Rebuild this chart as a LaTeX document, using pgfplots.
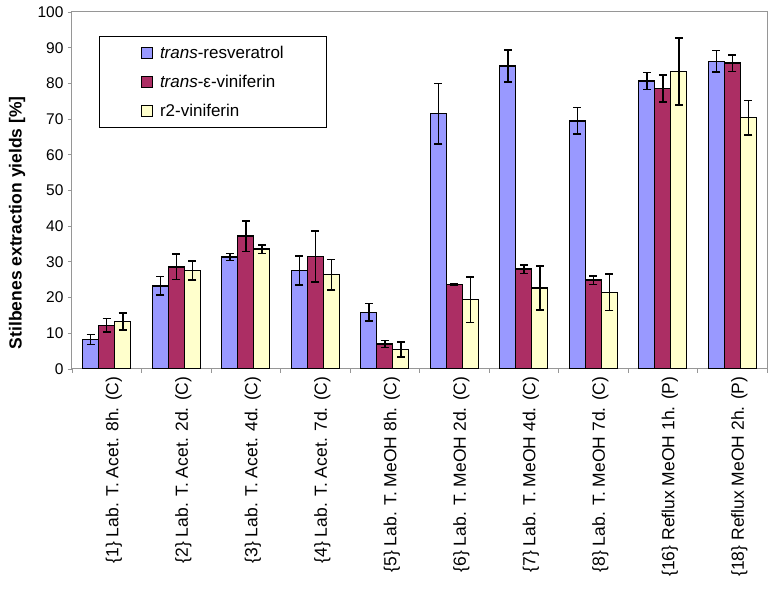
\documentclass[border=0pt]{standalone}
\usepackage{pgfplots}
\pgfplotsset{compat=1.18}
\usepackage{pgfplotstable}
\usepackage{fontspec}
\setmainfont{Liberation Sans}
\definecolor{cblue}{HTML}{9999FF}
\definecolor{cred}{RGB}{172,46,100}
\definecolor{cyel}{HTML}{FFFFCC}
\definecolor{axgray}{RGB}{150,150,150}

\pgfplotstableread{
x  res  reserr  eps  epserr  r2  r2err
0  8.2  1.4   12.2  1.9   13.3  2.4
1  23.3 2.6   28.6  3.6   27.6  2.7
2  31.4 1.0   37.2  4.3   33.6  1.2
3  27.6 4.1   31.5  7.1   26.4  4.3
4  15.9 2.4   7.0   1.0   5.5   2.1
5  71.5 8.5   23.7  0.2   19.4  6.4
6  84.9 4.5   28.0  1.2   22.7  6.2
7  69.5 3.7   24.9  1.2   21.5  5.1
8  80.7 2.4   78.6  3.8   83.3  9.4
9  86.2 3.0   85.7  2.3   70.4  4.8
}\datatable

\begin{document}
\begin{tikzpicture}
\begin{axis}[
  at={(0,0)}, anchor=south west,
  scale only axis,
  width=695pt, height=357pt,
  ybar=0pt, bar width=16pt,
  xmin=-0.5, xmax=9.5,
  ymin=0, ymax=100,
  ytick={0,10,...,100},
  xtick={0,...,9},
  xticklabels={{\{1\} Lab. T. Acet. 8h. (C)},{\{2\} Lab. T. Acet. 2d. (C)},{\{3\} Lab. T. Acet. 4d. (C)},{\{4\} Lab. T. Acet. 7d. (C)},{\{5\} Lab. T. MeOH 8h. (C)},{\{6\} Lab. T. MeOH 2d. (C)},{\{7\} Lab. T. MeOH 4d. (C)},{\{8\} Lab. T. MeOH 7d. (C)},{\{16\} Reflux MeOH 1h. (P)},{\{18\} Reflux MeOH 2h. (P)}},
  minor xtick={-0.5,0.5,...,9.5},
  x tick style={draw=none},
  minor x tick style={draw=axgray, line width=0.8pt},
  minor tick length=4pt,
  y tick style={draw=axgray, line width=0.8pt},
  major tick length=4pt,
  tick align=outside,
  xtick pos=bottom, ytick pos=left,
  axis line style={axgray, line width=1pt},
  /pgf/number format/assume math mode=true,
  yticklabel style={font=\fontsize{15.5}{18}\selectfont, xshift=-1pt},
  xticklabel style={rotate=90, anchor=east, font=\fontsize{17.5}{21}\selectfont, yshift=-7pt},
  ylabel={\textbf{Stilbenes extraction yields [\%]}},
  ylabel style={font=\fontsize{17.5}{21}\selectfont, at={(axis description cs:-0.079,0.41)}, anchor=center},
  every axis plot/.append style={draw=black, line width=1.4pt,
    /pgfplots/error bars/y dir=both, /pgfplots/error bars/y explicit,
    /pgfplots/error bars/error bar style={black, line width=1.5pt},
    /pgfplots/error bars/error mark options={black, line width=1.5pt, mark size=4pt, rotate=90}},
  legend style={at={(axis description cs:0.039,0.933)}, anchor=north west,
    draw=black, line width=0.8pt, inner xsep=41pt, inner ysep=8pt,
    font=\fontsize{17}{20}\selectfont, row sep=11pt},
  legend cell align=left,
  legend image code/.code={\draw[#1, line width=1pt, draw=black] (0pt,-5.5pt) rectangle (11pt,5.5pt); \path[draw=none, fill=none] (17pt,0pt) circle (0pt);},
]
\addplot[fill=cblue] table[x=x, y=res, y error=reserr]{\datatable};
\addplot[fill=cred] table[x=x, y=eps, y error=epserr]{\datatable};
\addplot[fill=cyel] table[x=x, y=r2, y error=r2err]{\datatable};
\legend{\textit{trans}-resveratrol, \textit{trans}-ε-viniferin, r2-viniferin}
\end{axis}
\path[use as bounding box] (-72pt,-224pt) rectangle (704pt,369pt);
\end{tikzpicture}
\end{document}
